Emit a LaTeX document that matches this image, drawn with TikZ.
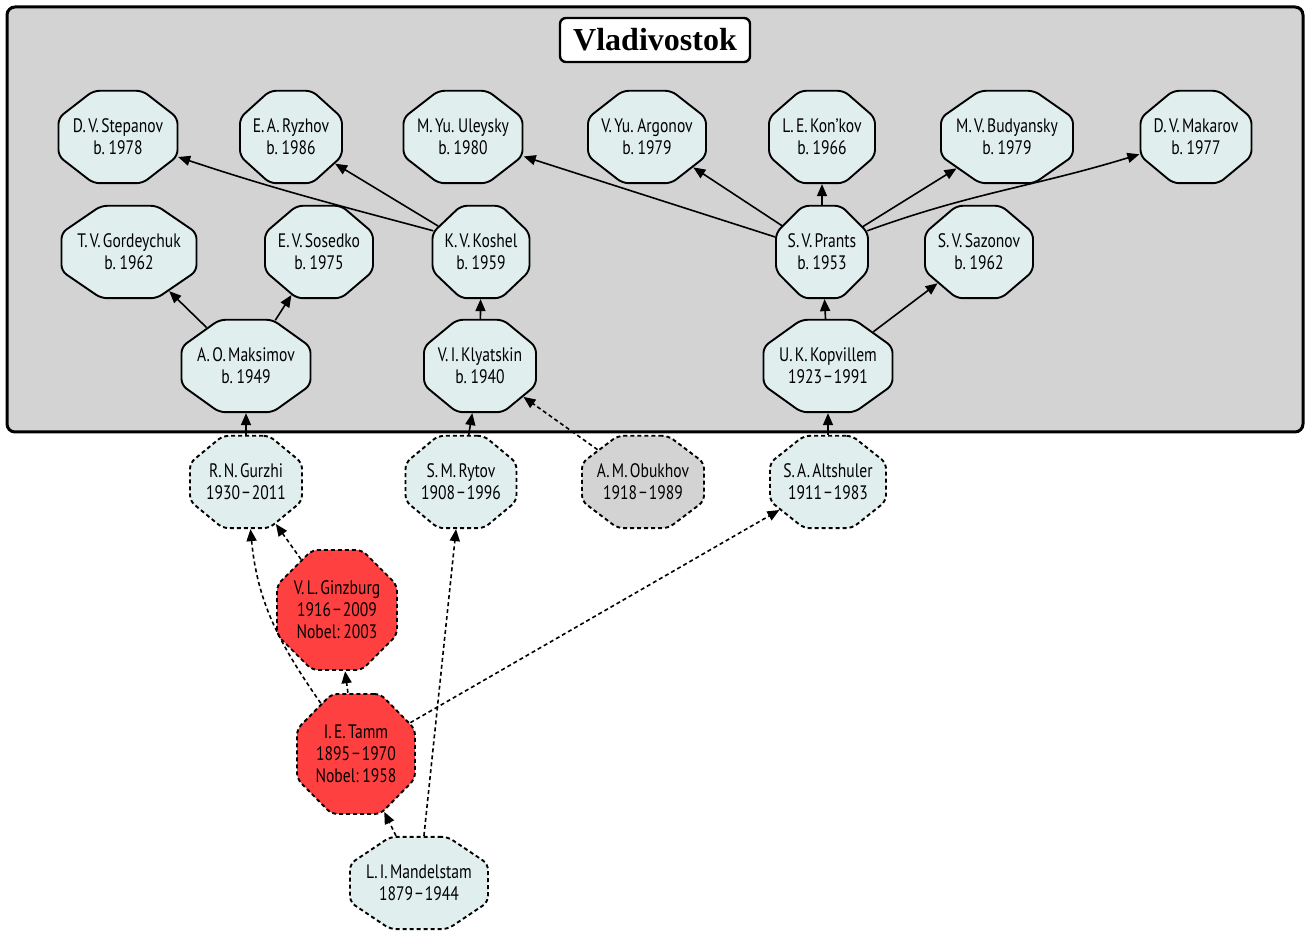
\documentclass[tikz,border=0pt]{standalone}
\usepackage{fontspec}
\setmainfont{PT Sans}[FakeStretch=0.8, WordSpace=0.55]
\newfontfamily\titlefont{Liberation Serif}
\usetikzlibrary{shapes.geometric, arrows.meta}

\definecolor{azurefill}{RGB}{224,238,238}
\definecolor{nobelred}{RGB}{255,64,64}
\definecolor{clustergray}{RGB}{211,211,211}

\begin{document}
\begin{tikzpicture}[x=1pt, y=1pt,
  person/.style={regular polygon, regular polygon sides=8, minimum size=100pt,
    inner sep=0pt, draw, line width=1.9pt, rounded corners=6pt, fill=azurefill},
  outside/.style={person, dash pattern=on 4pt off 3pt},
  nobel/.style={outside, fill=nobelred, yscale=1.299},
  every label/.style={align=center, font=\fontsize{19.5}{22}\selectfont},
  link/.style={line width=1.6pt, -{Triangle[length=12pt, width=10pt]}},
  weaklink/.style={link, dash pattern=on 4pt off 3pt}]

  \useasboundingbox (0,0) rectangle (1307,931);

  % cluster
  \draw[line width=3pt, rounded corners=8pt, fill=clustergray] (7,499) rectangle (1303,924);
  \node[draw, fill=white, line width=2.4pt, rounded corners=6pt,
    minimum width=190pt, minimum height=44pt, inner sep=0pt,
    font=\titlefont\bfseries\fontsize{32}{36}\selectfont] (city) at (655,891) {Vladivostok};

  % top row
  \node[person, xscale=1.288, label=center:{D. V. Stepanov\\b. 1978}]  (stepanov)  at (118,794)  {};
  \node[person, xscale=1.104, label=center:{E. A. Ryzhov\\b. 1986}]    (ryzhov)    at (291,794)  {};
  \node[person, xscale=1.288, label=center:{M. Yu. Uleysky\\b. 1980}]  (uleysky)   at (463,794)  {};
  \node[person, xscale=1.277, label=center:{V. Yu. Argonov\\b. 1979}]  (argonov)   at (647,794)  {};
  \node[person, xscale=1.147, label=center:{L. E. Kon'kov\\b. 1966}]   (konkov)    at (822,794)  {};
  \node[person, xscale=1.429, label=center:{M. V. Budyansky\\b. 1979}] (budyansky) at (1007,794) {};
  \node[person, xscale=1.201, label=center:{D. V. Makarov\\b. 1977}]   (makarov)   at (1196,794) {};

  \node[person, xscale=1.461, label=center:{T. V. Gordeychuk\\b. 1962}] (gordeychuk) at (129,679) {};
  \node[person, xscale=1.169, label=center:{E. V. Sosedko\\b. 1975}]    (sosedko)    at (319,679) {};
  \node[person, xscale=1.050, label=center:{K. V. Koshel\\b. 1959}]     (koshel)     at (481,679) {};
  \node[person, xscale=0.996, label=center:{S. V. Prants\\b. 1953}]     (prants)     at (822,679) {};
  \node[person, xscale=1.169, label=center:{S. V. Sazonov\\b. 1962}]    (sazonov)    at (979,679) {};

  \node[person, xscale=1.396, label=center:{A. O. Maksimov\\b. 1949}]   (maksimov)  at (246,565) {};
  \node[person, xscale=1.212, label=center:{V. I. Klyatskin\\b. 1940}]  (klyatskin) at (480,565) {};
  \node[person, xscale=1.396, label=center:{U. K. Kopvillem\\1923\kern2pt−\kern2pt1991}] (kopvillem) at (828,565) {};

  % outside the cluster
  \node[outside, xscale=1.212, label=center:{R. N. Gurzhi\\1930\kern2pt−\kern2pt2011}]    (gurzhi)    at (246,449) {};
  \node[outside, xscale=1.201, label=center:{S. M. Rytov\\1908\kern2pt−\kern2pt1996}]     (rytov)     at (461,449) {};
  \node[outside, xscale=1.321, fill=clustergray, label=center:{A. M. Obukhov\\1918\kern2pt−\kern2pt1989}] (obukhov) at (643,449) {};
  \node[outside, xscale=1.256, label=center:{S. A. Altshuler\\1911\kern2pt−\kern2pt1983}] (altshuler) at (828,449) {};
  \node[nobel, xscale=1.299, label=center:{V. L. Ginzburg\\1916\kern2pt−\kern2pt2009\\Nobel: 2003}] (ginzburg) at (337,321) {};
  \node[nobel, xscale=1.277, label=center:{I. E. Tamm\\1895\kern2pt−\kern2pt1970\\Nobel: 1958}]     (tamm)     at (356,177) {};
  \node[outside, xscale=1.494, label=center:{L. I. Mandelstam\\1879\kern2pt−\kern2pt1944}] (mandelstam) at (419,48) {};

  \draw[link] (koshel.155) to[out=165, in=-20] (stepanov);
  \draw[link] (koshel) to (ryzhov);
  \draw[link] (maksimov) to (gordeychuk);
  \draw[link] (maksimov) to (sosedko);
  \draw[link] (klyatskin) to (koshel);
  \draw[link] (prants) to (uleysky);
  \draw[link] (prants) to (argonov);
  \draw[link] (prants) to (konkov);
  \draw[link] (prants) to (budyansky);
  \draw[link] (prants.25) to[out=20, in=198] (makarov);
  \draw[link] (kopvillem) to (prants);
  \draw[link] (kopvillem) to (sazonov);

  \draw[link] (gurzhi) to (maksimov);
  \draw[link] (rytov) to (klyatskin);
  \draw[link] (altshuler) to (kopvillem);
  \draw[weaklink] (obukhov) to (klyatskin);
  \draw[weaklink] (ginzburg) to (gurzhi);
  \draw[weaklink] (tamm) to[out=125, in=-85] (gurzhi);
  \draw[weaklink] (tamm) to (ginzburg);
  \draw[weaklink] (tamm) to (altshuler);
  \draw[weaklink] (mandelstam) to (tamm);
  \draw[weaklink] (mandelstam) to (rytov);

\end{tikzpicture}
\end{document}
